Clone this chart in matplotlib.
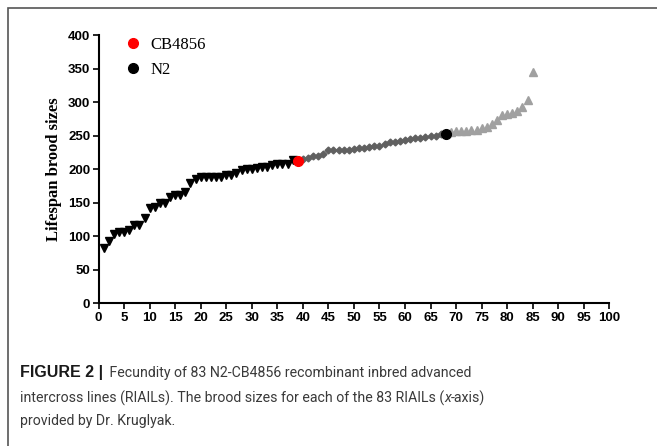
import matplotlib.pyplot as plt
from matplotlib.patches import Rectangle
from matplotlib.lines import Line2D

# brood sizes, sorted RIAILs split into three groups
low_x = list(range(1, 39))
low_y = [82, 93, 104, 106, 106, 109, 116, 117, 127, 142,
         144, 149, 150, 159, 161, 161, 166, 180, 186, 188,
         188, 189, 189, 189, 191, 192, 194, 198, 200, 200,
         201, 203, 203, 206, 207, 207, 208, 213]
mid_x = list(range(40, 68))
mid_y = [215, 217, 219, 220, 222, 228, 228, 228, 229, 229,
         230, 232, 232, 233, 234, 235, 238, 240, 241, 242,
         243, 245, 246, 247, 248, 249, 250, 253]
high_x = list(range(69, 86))
high_y = [255, 257, 257, 257, 258, 259, 262, 263, 267, 274,
          280, 282, 283, 287, 292, 303, 345]
parents = ['CB4856', 'N2']
parent_x = [39, 68]
parent_y = [212, 253]
parent_colors = ['#ff0000', '#000000']

xticks = list(range(0, 101, 5))
yticks = list(range(0, 401, 50))

# caption lines as (text, weight, style) pieces
caption = [
    [('FIGURE 2 |', 'bold', 'normal'),
     (' Fecundity of 83 N2-CB4856 recombinant inbred advanced', 'normal', 'normal')],
    [('intercross lines (RIAILs). The brood sizes for each of the 83 RIAILs (', 'normal', 'normal'),
     ('x', 'normal', 'italic'), ('-axis)', 'normal', 'normal')],
    [('provided by Dr. Kruglyak.', 'normal', 'normal')],
]
caption_y = [373, 398, 421]

fig = plt.figure(figsize=(6.57, 4.46), dpi=100)
ax = fig.add_axes([0.150, 0.320, 0.7774, 0.6015])

ax.plot(low_x, low_y, 'v', color='black', ms=5.5, zorder=3)
ax.plot(mid_x, mid_y, 'D', color='#606060', ms=3.5, zorder=3)
ax.plot(high_x, high_y, '^', color='#a0a0a0', ms=5.5, zorder=2)
for name, px, py, c in zip(parents, parent_x, parent_y, parent_colors):
    ax.plot(px, py, 'o', color=c, ms=7, zorder=4)

ax.set_xlim(0, 100)
ax.set_ylim(0, 400)
ax.set_xticks(xticks)
ax.set_yticks(yticks)
for s in ['top', 'right']:
    ax.spines[s].set_visible(False)
for s in ['left', 'bottom']:
    ax.spines[s].set_linewidth(1.5)
ax.tick_params(width=1.2, length=4, labelsize=9.5, pad=2)
for lab in ax.get_xticklabels() + ax.get_yticklabels():
    lab.set_fontweight('bold')
    lab.set_family('Liberation Sans')
ax.set_ylabel('Lifespan brood sizes', fontsize=12, fontweight='bold',
              family='Liberation Serif', labelpad=4)

handles = [Line2D([], [], marker='o', ls='', color=c, ms=7) for c in parent_colors]
ax.legend(handles, parents, loc='upper left', bbox_to_anchor=(0.006, 1.05),
          frameon=False, handletextpad=0.05, labelspacing=0.55,
          prop={'family': 'Liberation Serif', 'size': 12})

# frame around the figure panel (runs off the right and bottom edges)
fig.add_artist(Rectangle((7.5 / 657, -0.2), 1.2, 0.2 + 438 / 446, fill=False,
                         edgecolor='#555555', lw=1.2, transform=fig.transFigure))

# caption, piece by piece so bold / italic parts sit inline
fig.canvas.draw()
r = fig.canvas.get_renderer()
for line, yy in zip(caption, caption_y):
    x0 = 20
    for txt, wt, st in line:
        if wt == 'bold':
            t = fig.text(x0 / 657, 1 - yy / 446, txt, fontsize=11.5, fontweight='bold',
                         family='Liberation Sans', color='#1a1a1a', va='center')
            x0 = t.get_window_extent(r).x1 + 3
        else:
            t = fig.text(x0 / 657, 1 - yy / 446, txt, fontsize=10.2, fontstyle=st,
                         family='Roboto', color='#3a3a3a', va='center')
            x0 = t.get_window_extent(r).x1

fig.savefig('out.png', dpi=100)
